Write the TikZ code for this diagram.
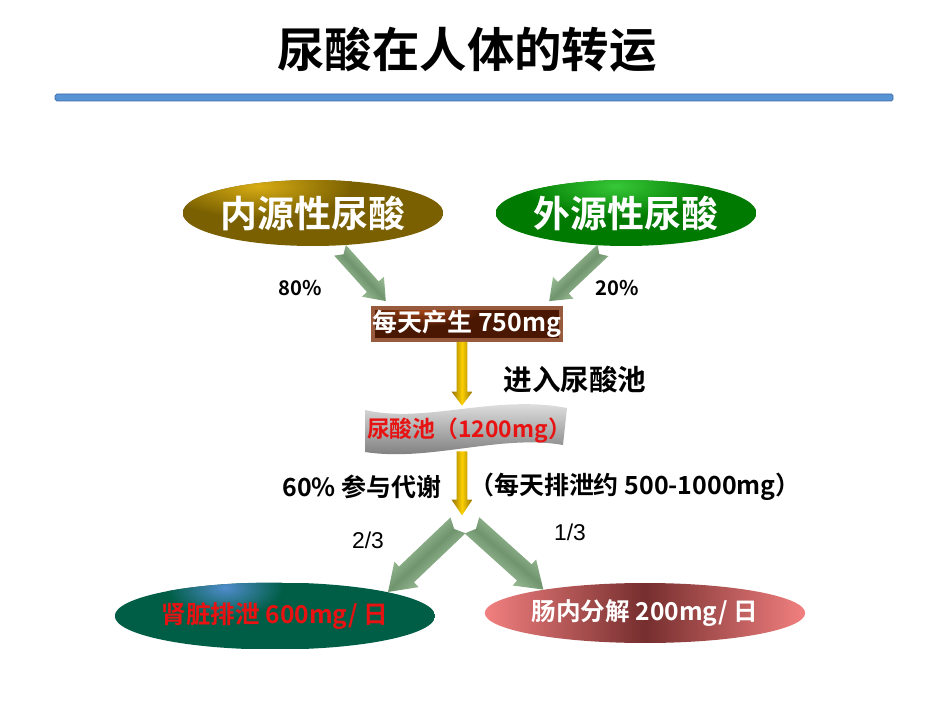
\documentclass[tikz,border=0pt]{standalone}
\usepackage{fontspec}
\setmainfont{Noto Sans CJK SC}[BoldFont={Noto Sans CJK SC Bold}]
\newfontfamily\ratiofont{Liberation Sans}
\usepackage{tikz}
\usetikzlibrary{calc,shapes.geometric}
\definecolor{barfill}{RGB}{88,148,212}
\definecolor{baredge}{RGB}{62,105,165}
\definecolor{endolight}{RGB}{215,172,20}
\definecolor{endodark}{RGB}{122,96,0}
\definecolor{exolight}{RGB}{55,200,55}
\definecolor{exodark}{RGB}{0,122,0}
\definecolor{flowlight}{RGB}{192,226,186}
\definecolor{flowdark}{RGB}{112,148,110}
\definecolor{goldlight}{RGB}{252,208,0}
\definecolor{golddark}{RGB}{148,112,0}
\definecolor{boxfill}{RGB}{74,24,2}
\definecolor{boxlight}{RGB}{165,70,25}
\definecolor{boxedge}{RGB}{152,90,60}
\definecolor{kidneyteal}{RGB}{0,94,70}
\definecolor{kidneyblue}{RGB}{80,140,205}
\definecolor{gutpink}{RGB}{242,128,128}
\definecolor{gutdark}{RGB}{118,46,46}
\definecolor{poolred}{RGB}{232,18,18}
\newcommand{\fatarrow}[7]{%
  \coordinate (fa-c) at ($(#3)!#6!(#2)$);%
  \coordinate (fa-n) at ($(#2)!#7!(#3)$);%
  \shade[#1] (fa-n) -- ($(#2)!#4!90:(#3)$) -- ($(fa-c)!#4!90:(#3)$) -- ($(fa-c)!#5!90:(#3)$)
    -- (#3) -- ($(fa-c)!#5!-90:(#3)$) -- ($(fa-c)!#4!-90:(#3)$) -- ($(#2)!#4!-90:(#3)$) -- cycle;%
}
\tikzset{
  heading/.style={font=\bfseries\fontsize{27}{30}\selectfont},
  glow/.style n args={4}{path picture={%
    \fill[#1] (path picture bounding box.south west) rectangle (path picture bounding box.north east);
    \shade[inner color=#2,outer color=#1] ($(path picture bounding box.north)+(#3)$) ellipse [#4];}},
  source/.style={ellipse,minimum width=5.08cm,minimum height=1.32cm,inner sep=0pt,text=white,
    font=\bfseries\fontsize{21}{24}\selectfont},
  daybox/.style={rectangle,draw=boxedge,line width=2.2pt,minimum width=3.72cm,
    minimum height=0.64cm,inner sep=0pt,text=white,font=\bfseries\fontsize{14.2}{16}\selectfont},
  pooltext/.style={minimum width=4cm,minimum height=0.84cm,inner sep=0pt,text=poolred,
    font=\bfseries\fontsize{13}{15}\selectfont},
  share/.style={font=\bfseries\fontsize{11.5}{13}\selectfont},
  note/.style={font=\bfseries\fontsize{14.2}{16}\selectfont},
  bignote/.style={font=\bfseries\fontsize{16.3}{18}\selectfont},
  ratio/.style={font=\ratiofont\fontsize{13}{15}\selectfont},
  sink/.style={ellipse,inner sep=0pt,font=\bfseries\fontsize{14}{16}\selectfont},
  flowarrow/.style={left color=flowlight,right color=flowlight,middle color=flowdark},
  goldarrow/.style={left color=golddark,right color=golddark,middle color=goldlight,shading angle=90},
}
\begin{document}
\begin{tikzpicture}[x=0.02cm,y=-0.02cm]
  \useasboundingbox (0,0) rectangle (950,713);
  \node[heading] (title) at (467,50) {尿酸在人体的转运};
  \draw[baredge,fill=barfill,rounded corners=1pt] (55,94) rectangle (893,101);
  % sources
  \node[source,glow={endodark}{endolight}{-55,6}{x radius=95,y radius=32}] (endo) at (313,213) {内源性尿酸};
  \node[source,glow={exodark}{exolight}{-10,6}{x radius=95,y radius=32}] (exo) at (626,213) {外源性尿酸};
  \node[daybox,glow={boxfill}{boxlight}{-45,2}{x radius=60,y radius=16}] (daily) at (467,324) {每天产生 750mg};
  \node[share] (endoshare) at (300,288) {80\%};
  \node[share] (exoshare) at (617,288) {20\%};
  \coordinate (endoout) at ($(endo.south)+(27,4)$);
  \coordinate (exoout) at ($(exo.south)+(-23,4)$);
  \coordinate (dailyinl) at ($(daily.north west)+(15,-5)$);
  \coordinate (dailyinr) at ($(daily.north east)+(-14,-5)$);
  \fatarrow{flowarrow,shading angle=-47}{endoout}{dailyinl}{4.5pt}{8.5pt}{11pt}{3pt}
  \fatarrow{flowarrow,shading angle=-136}{exoout}{dailyinr}{4.5pt}{8.5pt}{11pt}{3pt}
  % pool
  \shade[top color=black!6,middle color=black!30,bottom color=black!55]
    (365,410) .. controls (425,424) and (495,394) .. (567,408) -- (563,445)
    .. controls (500,434) and (430,462) .. (365,452) -- cycle;
  \node[pooltext] (pool) at (469,430) {尿酸池（1200mg）};
  \node[bignote] (enter) at (575,380) {进入尿酸池};
  \coordinate (dailyout) at ($(daily.south)+(-5,0)$);
  \coordinate (poolin) at ($(dailyout |- pool.north)+(0,-3)$);
  \coordinate (poolout) at (dailyout |- pool.south);
  \coordinate (split) at ($(poolout)+(0,64)$);
  \fatarrow{goldarrow}{dailyout}{poolin}{3.1pt}{6pt}{8pt}{0pt}
  \fatarrow{goldarrow}{poolout}{split}{3.1pt}{6pt}{9pt}{0pt}
  \node[note] (metab) at (362,487) {60\% 参与代谢};
  \node[note] (excrete) at (635,487) {（每天排泄约 500-1000mg）};
  % sinks
  \node[sink,minimum width=6.28cm,minimum height=1.34cm,glow={kidneyteal}{kidneyblue}{-50,5}{x radius=58,y radius=30},
    text=poolred] (kidney) at (275,616) {肾脏排泄 600mg/ 日};
  \node[sink,minimum width=5.9cm,minimum height=1.2cm,left color=gutpink,right color=gutpink,
    middle color=gutdark,text=white] (gut) at (645,613) {肠内分解 200mg/ 日};
  \node[ratio] (kidneyratio) at (368,540) {2/3};
  \node[ratio] (gutratio) at (570,532) {1/3};
  \coordinate (kidneyout) at ($(split)+(-4,10)$);
  \coordinate (gutout) at ($(split)+(10,10)$);
  \fatarrow{flowarrow,shading angle=-137}{kidneyout}{kidney.12}{6.2pt}{10pt}{14.5pt}{3pt}
  \fatarrow{flowarrow,shading angle=-40}{gutout}{gut.167}{6.2pt}{10pt}{14.5pt}{3pt}
\end{tikzpicture}
\end{document}
